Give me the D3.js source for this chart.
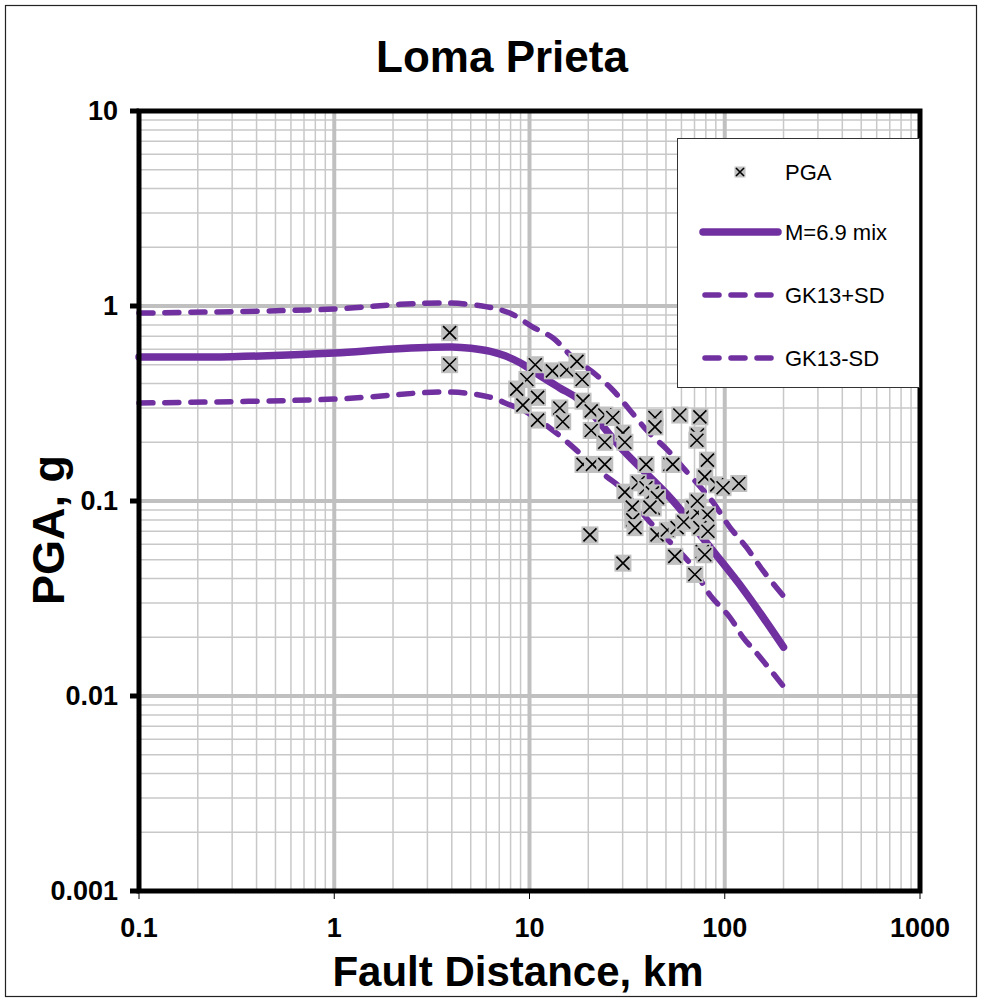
<!DOCTYPE html>
<html lang="en">
<head>
    <meta charset="UTF-8">
    <title>Loma Prieta PGA</title>
    <style>
        body { margin: 0; background: #fff; }
        text { font-family: "Liberation Sans", Arial, sans-serif; }
        .tick-label { font-size: 27px; font-weight: bold; }
        .axis-title { font-weight: bold; }
        .legend text { font-size: 22px; }
    </style>
</head>
<body>
<svg width="987" height="999"></svg>
<script src="https://cdn.jsdelivr.net/npm/d3@7"></script>
<script>
    // recorded PGA, fault distance (km) vs g
    var pgaDist = [3.9, 3.9, 10.7, 13.1, 15.5, 17.5, 18.6, 9.7, 8.6, 11.0, 9.25, 11.0, 14.3, 14.8,
        18.8, 20.7, 20.7, 24.3, 18.8, 21.0, 24.3, 24.3, 26.7, 30.1, 30.8, 43.9, 43.9, 58.9, 74.6,
        72.4, 72.0, 39.5, 52.4, 54.2, 81.5, 79, 91, 118, 98, 30.8, 36, 39.5, 33.6, 33.8, 34.7,
        42.6, 43, 45.2, 20.4, 45, 50.8, 57, 61.7, 68.7, 72.4, 81.5, 74.6, 82, 55.5, 76.7, 79,
        30.1, 70.3, 72.4, 41.4];
    var pgaVal = [0.73, 0.50, 0.50, 0.465, 0.47, 0.52, 0.42, 0.42, 0.375, 0.34, 0.31, 0.26, 0.30, 0.255,
        0.325, 0.29, 0.23, 0.20, 0.154, 0.154, 0.154, 0.276, 0.268, 0.223, 0.20, 0.268, 0.24, 0.276, 0.27,
        0.218, 0.205, 0.154, 0.154, 0.154, 0.162, 0.133, 0.121, 0.123, 0.117, 0.111, 0.124, 0.117, 0.093, 0.080, 0.073,
        0.11, 0.092, 0.104, 0.067, 0.067, 0.071, 0.073, 0.078, 0.093, 0.087, 0.085, 0.073, 0.07, 0.052, 0.055, 0.053,
        0.048, 0.042, 0.10, 0.093];

    // M=6.9 mix
    var meanDist = [0.1, 0.3, 1, 2, 4, 5, 6.3, 7.5, 9, 11.3, 14.3, 18, 30, 54, 84, 125, 200];
    var meanVal = [0.548, 0.55, 0.574, 0.602, 0.616, 0.607, 0.585, 0.555, 0.51, 0.44, 0.38, 0.33, 0.183, 0.101, 0.058, 0.035, 0.0178];

    // GK13+SD
    var plusDist = [0.1, 1, 2.17, 3.91, 6.06, 7.92, 10.4, 13.2, 16.6, 21, 26.7, 32.6, 40.6, 50.8, 62.8, 75, 87.4, 106, 129, 156, 200];
    var plusVal = [0.92, 0.965, 1.02, 1.035, 0.99, 0.92, 0.78, 0.685, 0.547, 0.459, 0.371, 0.293, 0.226, 0.183, 0.144, 0.118, 0.098, 0.0735, 0.058, 0.0443, 0.0325];

    // GK13-SD
    var minusDist = [0.1, 1, 3.9, 6.26, 7.93, 9.25, 12.7, 16.7, 19.7, 24.9, 29, 41.3, 66.3, 83.9, 106, 124, 151, 200];
    var minusVal = [0.318, 0.333, 0.362, 0.341, 0.311, 0.293, 0.237, 0.189, 0.162, 0.133, 0.118, 0.0782, 0.048, 0.033, 0.0254, 0.020, 0.0159, 0.0112];

    var xTicks = [0.1, 1, 10, 100, 1000];
    var yTicks = [0.001, 0.01, 0.1, 1, 10];
    var xTickLabels = ["0.1", "1", "10", "100", "1000"];
    var yTickLabels = ["0.001", "0.01", "0.1", "1", "10"];

    var purple = "#7030a0";

    var svg = d3.select("svg");

    // outer chart border
    svg.append("rect")
        .attr("x", 5.5).attr("y", 5.5)
        .attr("width", 971).attr("height", 991)
        .attr("fill", "#fff").attr("stroke", "#222").attr("stroke-width", 1.2);

    var x = d3.scaleLog().domain([0.1, 1000]).range([139, 920]);
    var y = d3.scaleLog().domain([0.001, 10]).range([891, 111]);

    // minor grid
    var minorX = [], minorY = [];
    [0.1, 1, 10, 100].forEach(function (d) {
        for (var k = 2; k < 10; k++) minorX.push(d * k);
    });
    [0.001, 0.01, 0.1, 1].forEach(function (d) {
        for (var k = 2; k < 10; k++) minorY.push(d * k);
    });

    var grid = svg.append("g");
    grid.selectAll(".gx").data(minorX).enter().append("line")
        .attr("x1", function (d) { return x(d); }).attr("x2", function (d) { return x(d); })
        .attr("y1", y(0.001)).attr("y2", y(10))
        .attr("stroke", "#c8c8c8").attr("stroke-width", 1.5);
    grid.selectAll(".gy").data(minorY).enter().append("line")
        .attr("y1", function (d) { return y(d); }).attr("y2", function (d) { return y(d); })
        .attr("x1", x(0.1)).attr("x2", x(1000))
        .attr("stroke", "#c8c8c8").attr("stroke-width", 1.5);
    grid.selectAll(".mx").data(xTicks).enter().append("line")
        .attr("x1", function (d) { return x(d); }).attr("x2", function (d) { return x(d); })
        .attr("y1", y(0.001)).attr("y2", y(10))
        .attr("stroke", "#c0c0c0").attr("stroke-width", 4);
    grid.selectAll(".my").data(yTicks).enter().append("line")
        .attr("y1", function (d) { return y(d); }).attr("y2", function (d) { return y(d); })
        .attr("x1", x(0.1)).attr("x2", x(1000))
        .attr("stroke", "#c0c0c0").attr("stroke-width", 4);

    // curves
    function drawCurve(dist, vals, width, dash) {
        var pts = dist.map(function (d, i) { return [d, vals[i]]; });
        var line = d3.line()
            .x(function (d) { return x(d[0]); })
            .y(function (d) { return y(d[1]); })
            .curve(d3.curveCatmullRom.alpha(0.5));
        var p = svg.append("path")
            .datum(pts)
            .attr("d", line)
            .attr("fill", "none")
            .attr("stroke", purple)
            .attr("stroke-width", width)
            .attr("stroke-linecap", "round")
            .attr("stroke-linejoin", "round");
        if (dash) p.attr("stroke-dasharray", dash);
    }
    drawCurve(plusDist, plusVal, 5.5, "14,12");
    drawCurve(minusDist, minusVal, 5.5, "14,12");
    drawCurve(meanDist, meanVal, 7.5, null);

    // markers: gray square with black x
    function marker(g, size, xs) {
        g.append("rect")
            .attr("x", -size / 2).attr("y", -size / 2)
            .attr("width", size).attr("height", size)
            .attr("fill", "#c0c0c0");
        g.append("path")
            .attr("d", "M" + (-xs) + "," + (-xs) + "L" + xs + "," + xs + "M" + (-xs) + "," + xs + "L" + xs + "," + (-xs))
            .attr("stroke", "#000").attr("stroke-width", 1.6).attr("fill", "none");
    }
    var pts = pgaDist.map(function (d, i) { return [d, pgaVal[i]]; });
    svg.append("g").selectAll("g").data(pts).enter().append("g")
        .attr("transform", function (d) { return "translate(" + x(d[0]) + "," + y(d[1]) + ")"; })
        .each(function () { marker(d3.select(this), 17, 6.5); });

    // plot frame
    svg.append("rect")
        .attr("x", x(0.1)).attr("y", y(10))
        .attr("width", x(1000) - x(0.1)).attr("height", y(0.001) - y(10))
        .attr("fill", "none").attr("stroke", "#000").attr("stroke-width", 5);

    // ticks
    svg.selectAll(".xt").data(xTicks).enter().append("line")
        .attr("x1", function (d) { return x(d); }).attr("x2", function (d) { return x(d); })
        .attr("y1", y(0.001)).attr("y2", y(0.001) + 8)
        .attr("stroke", "#000").attr("stroke-width", 1);
    svg.selectAll(".yt").data(yTicks).enter().append("line")
        .attr("y1", function (d) { return y(d); }).attr("y2", function (d) { return y(d); })
        .attr("x1", x(0.1) - 9).attr("x2", x(0.1))
        .attr("stroke", "#000").attr("stroke-width", 5);

    // tick labels
    svg.selectAll(".xl").data(xTicks).enter().append("text")
        .attr("class", "tick-label")
        .attr("x", function (d) { return x(d); })
        .attr("y", 937)
        .attr("text-anchor", "middle")
        .text(function (d, i) { return xTickLabels[i]; });
    svg.selectAll(".yl").data(yTicks).enter().append("text")
        .attr("class", "tick-label")
        .attr("x", 118)
        .attr("y", function (d) { return y(d); })
        .attr("dy", "0.35em")
        .attr("text-anchor", "end")
        .text(function (d, i) { return yTickLabels[i]; });

    // titles
    svg.append("text")
        .attr("x", 502).attr("y", 72)
        .attr("text-anchor", "middle")
        .style("font-size", "44px").style("font-weight", "bold")
        .text("Loma Prieta");
    svg.append("text")
        .attr("class", "axis-title")
        .style("font-size", "42px")
        .attr("x", 518).attr("y", 986)
        .attr("text-anchor", "middle")
        .text("Fault Distance, km");
    svg.append("text")
        .attr("class", "axis-title")
        .style("font-size", "45px")
        .attr("transform", "translate(64,530) rotate(-90)")
        .attr("text-anchor", "middle")
        .text("PGA, g");

    // legend
    var lg = svg.append("g").attr("class", "legend");
    lg.append("rect")
        .attr("x", 677.5).attr("y", 138.5).attr("width", 242).attr("height", 249)
        .attr("fill", "#fff").attr("stroke", "#333").attr("stroke-width", 1);
    var legendItems = ["PGA", "M=6.9 mix", "GK13+SD", "GK13-SD"];
    var legendY = [172, 232, 295, 358];
    marker(lg.append("g").attr("transform", "translate(740," + legendY[0] + ")"), 11, 4);
    lg.append("line").attr("x1", 703).attr("x2", 778).attr("y1", legendY[1]).attr("y2", legendY[1])
        .attr("stroke", purple).attr("stroke-width", 7.5).attr("stroke-linecap", "round");
    [2, 3].forEach(function (i) {
        lg.append("line").attr("x1", 705).attr("x2", 780).attr("y1", legendY[i]).attr("y2", legendY[i])
            .attr("stroke", purple).attr("stroke-width", 5.5).attr("stroke-linecap", "round")
            .attr("stroke-dasharray", "14,12");
    });
    lg.selectAll(".lt").data(legendItems).enter().append("text")
        .attr("x", 785)
        .attr("y", function (d, i) { return legendY[i]; })
        .attr("dy", "0.35em")
        .text(function (d) { return d; });
</script>
</body>
</html>
